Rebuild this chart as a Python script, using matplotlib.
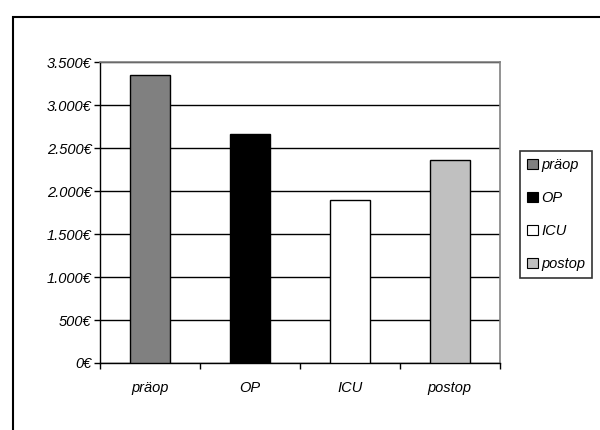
import matplotlib
matplotlib.use("Agg")
import matplotlib.pyplot as plt
from matplotlib.patches import Rectangle, Patch
from matplotlib.ticker import FuncFormatter, FixedLocator

plt.rcParams['font.family'] = ['Liberation Sans', 'DejaVu Sans']

categories = ["präop", "OP", "ICU", "postop"]
costs = [3360, 2665, 1900, 2370]
colors = ["#808080", "#000000", "#ffffff", "#c0c0c0"]
y_ticks = [0, 500, 1000, 1500, 2000, 2500, 3000, 3500]

FS = 10.5

fig = plt.figure(figsize=(6.0, 4.3), dpi=100)

# outer chart frame
fig.patches.append(Rectangle((13 / 600, -0.1), 1.2, 1 - 17 / 430 + 0.1,
                             transform=fig.transFigure, fill=False,
                             edgecolor="black", linewidth=1.5, zorder=0))

ax = fig.add_axes([100 / 600, 1 - 363 / 430, 399.5 / 600, 300.5 / 430])
x = list(range(len(categories)))
ax.bar(x, costs, width=0.4, color=colors, edgecolor="black", linewidth=1.0, zorder=3)

ax.set_xlim(-0.5, len(categories) - 0.5)
ax.set_ylim(0, 3500)
ax.yaxis.set_major_locator(FixedLocator(y_ticks))
ax.yaxis.grid(True, color="black", linewidth=1.0, zorder=1)
ax.set_axisbelow(True)

def euro(v, _):
    return f"{int(v):,}€".replace(",", ".")

ax.yaxis.set_major_formatter(FuncFormatter(euro))
ax.tick_params(axis="y", direction="out", length=4, width=1, pad=2,
               labelsize=FS)
for lbl in ax.get_yticklabels():
    lbl.set_fontstyle("italic")

ax.set_xticks([i - 0.5 for i in range(len(categories) + 1)], minor=False)
ax.set_xticklabels([])
ax.set_xticks(x, minor=True)
ax.set_xticklabels(categories, minor=True, fontstyle="italic", fontsize=FS)
ax.tick_params(axis="x", which="major", direction="out", length=4, width=1)
ax.tick_params(axis="x", which="minor", length=0, pad=13)

for side in ("top", "right"):
    ax.spines[side].set_color("#808080")
    ax.spines[side].set_linewidth(1.2)
for side in ("left", "bottom"):
    ax.spines[side].set_color("black")
    ax.spines[side].set_linewidth(1.0)

handles = [Patch(facecolor=c, edgecolor="black", linewidth=0.8) for c in colors]
leg = fig.legend(handles, categories, loc="upper left",
                 bbox_to_anchor=(520 / 600, 1 - 151 / 430),
                 frameon=True, fancybox=False, edgecolor="black",
                 prop={"style": "italic", "size": FS},
                 handlelength=0.7, handleheight=0.7, handletextpad=0.25,
                 labelspacing=1.3, borderpad=0.5, borderaxespad=0)
leg.get_frame().set_linewidth(1.2)

fig.savefig("out.png", dpi=100)
